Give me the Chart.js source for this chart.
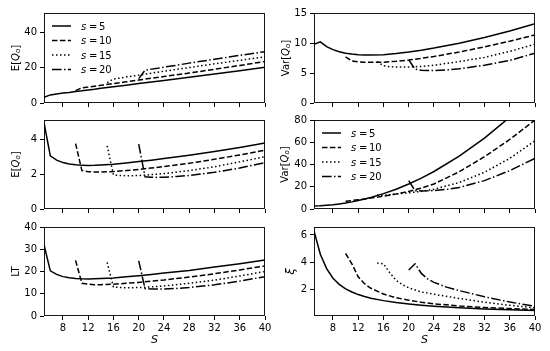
<!DOCTYPE html>
<html>
<head>
<meta charset="utf-8">
<script src="https://cdn.jsdelivr.net/npm/chart.js@4.4.1/dist/chart.umd.min.js"></script>
<style>
  html, body { margin: 0; padding: 0; background: #fff; }
  #wrap { position: relative; width: 550px; height: 351px; }
  #wrap canvas { position: absolute; left: 0; top: 0; }
</style>
</head>
<body>
<div id="wrap">
  <canvas id="c1" width="550" height="351"></canvas>
  <canvas id="c2" width="550" height="351"></canvas>
  <canvas id="c3" width="550" height="351"></canvas>
  <canvas id="c4" width="550" height="351"></canvas>
  <canvas id="c5" width="550" height="351"></canvas>
  <canvas id="c6" width="550" height="351"></canvas>
</div>
<script>
// S values for each s series
const S5 = [5, 6, 7, 8, 9, 10, 11, 12, 13, 14, 16, 18, 20, 22, 24, 28, 32, 36, 40];
const S10 = [10, 11, 12, 13, 14, 16, 18, 20, 22, 24, 28, 32, 36, 40];
const S15 = [15, 16, 17, 18, 19, 20, 22, 24, 28, 32, 36, 40];
const S20 = [20, 21, 22, 23, 24, 26, 28, 32, 36, 40];
const xTicks = [8, 12, 16, 20, 24, 28, 32, 36, 40];
const sLabels = ['5', '10', '15', '20'];

// top left: E[Qo]
const eqTop5 = [3.3, 4.6, 5.1, 5.6, 6.0, 6.5, 6.9, 7.4, 7.8, 8.3, 9.2, 10.1, 11.0, 11.9, 12.8, 14.6, 16.4, 18.3, 20.2];
const eqTop10 = [7.0, 8.6, 9.0, 9.5, 10.0, 11.0, 12.0, 13.0, 14.0, 15.0, 17.0, 19.1, 21.3, 23.5];
const eqTop15 = [11.5, 13.6, 14.1, 14.7, 15.2, 15.8, 16.9, 18.0, 20.1, 22.2, 24.2, 26.2];
const eqTop20 = [13.8, 18.6, 19.2, 19.7, 20.3, 21.4, 22.6, 24.8, 27.0, 29.1];
const eqTopTicks = [0, 20, 40];

// top right: Var[Qo]
const varTop5 = [9.8, 10.2, 9.4, 8.9, 8.55, 8.3, 8.15, 8.05, 8.0, 7.98, 8.05, 8.25, 8.5, 8.8, 9.15, 9.95, 10.9, 12.0, 13.2];
const varTop10 = [7.7, 7.0, 6.85, 6.8, 6.78, 6.8, 6.95, 7.15, 7.45, 7.75, 8.5, 9.35, 10.3, 11.35];
const varTop15 = [6.9, 6.2, 6.05, 6.0, 5.98, 6.0, 6.1, 6.3, 6.9, 7.6, 8.6, 9.8];
const varTop20 = [7.2, 5.65, 5.45, 5.4, 5.4, 5.5, 5.7, 6.3, 7.1, 8.3];
const varTopTicks = [0, 5, 10, 15];

// middle left: E[Qo]
const eqMid5 = [4.95, 3.05, 2.8, 2.66, 2.58, 2.53, 2.5, 2.49, 2.5, 2.52, 2.57, 2.64, 2.72, 2.8, 2.89, 3.08, 3.3, 3.53, 3.78];
const eqMid10 = [3.75, 2.2, 2.14, 2.12, 2.12, 2.15, 2.2, 2.27, 2.35, 2.43, 2.62, 2.85, 3.1, 3.37];
const eqMid15 = [3.62, 1.95, 1.92, 1.91, 1.91, 1.92, 1.97, 2.03, 2.2, 2.42, 2.7, 3.0];
const eqMid20 = [3.72, 1.85, 1.82, 1.81, 1.82, 1.86, 1.92, 2.1, 2.35, 2.66];
const eqMidTicks = [0, 2, 4];

// middle right: Var[Qo]
const varMid5 = [2.8, 3.0, 3.4, 3.9, 4.6, 5.4, 6.4, 7.6, 8.9, 10.4, 13.8, 17.8, 22.5, 27.8, 33.7, 47.5, 63.7, 82.5, 103.8];
const varMid10 = [7.0, 7.6, 8.3, 9.0, 9.8, 11.5, 13.5, 15.8, 18.8, 22.5, 33.5, 47.0, 62.5, 80.0];
const varMid15 = [12.5, 12.3, 12.8, 13.4, 14.0, 14.5, 15.9, 17.8, 23.8, 33.0, 45.5, 61.4];
const varMid20 = [25.5, 16.5, 16.2, 16.3, 16.6, 17.6, 19.4, 25.5, 34.5, 45.5];
const varMidTicks = [0, 20, 40, 60, 80];

// bottom left: LT
const lt5 = [32, 20.3, 18.7, 17.7, 17.2, 16.9, 16.7, 16.6, 16.7, 16.8, 17.1, 17.6, 18.1, 18.7, 19.3, 20.5, 22.0, 23.5, 25.2];
const lt10 = [25, 14.7, 14.3, 14.1, 14.1, 14.3, 14.7, 15.1, 15.7, 16.2, 17.5, 19.0, 20.7, 22.5];
const lt15 = [24.1, 13.0, 12.8, 12.7, 12.7, 12.8, 13.1, 13.5, 14.7, 16.1, 18.0, 20.0];
const lt20 = [24.8, 12.3, 12.1, 12.1, 12.1, 12.4, 12.8, 14.0, 15.7, 17.7];
const ltTicks = [0, 10, 20, 30, 40];

// bottom right: xi
const xi5 = [6.3, 4.6, 3.55, 2.85, 2.4, 2.08, 1.85, 1.66, 1.52, 1.4, 1.22, 1.08, 0.97, 0.88, 0.81, 0.7, 0.61, 0.55, 0.5];
const xi10 = [4.65, 3.9, 2.95, 2.45, 2.12, 1.7, 1.43, 1.25, 1.1, 0.99, 0.83, 0.72, 0.64, 0.57];
const xi15 = [3.95, 3.9, 3.25, 2.7, 2.38, 2.15, 1.85, 1.68, 1.38, 1.1, 0.88, 0.7];
const xi20 = [3.45, 3.9, 3.2, 2.8, 2.55, 2.2, 1.95, 1.5, 1.12, 0.8];
const xiTicks = [2, 4, 6];

const FONT = '"DejaVu Sans"';
const dashes = [[], [5.5, 2.4], [1.5, 2.5], [9.6, 2.4, 1.5, 2.4]];
const xsets = [S5, S10, S15, S20];

// write mixed upright/italic text, optionally rotated
function drawRich(ctx, parts, cx, cy, rotate) {
    ctx.save();
    ctx.translate(cx, cy);
    if (rotate) ctx.rotate(-Math.PI / 2);
    let total = 0;
    parts.forEach(p => {
        ctx.font = p.font;
        p.w = ctx.measureText(p.text).width;
        total += p.w + (p.gap || 0);
    });
    let x = -total / 2;
    ctx.fillStyle = '#000';
    ctx.textBaseline = 'alphabetic';
    ctx.textAlign = 'left';
    parts.forEach(p => {
        ctx.font = p.font;
        ctx.fillText(p.text, x, 3.6 + (p.dy || 0));
        x += p.w + (p.gap || 0);
    });
    ctx.restore();
}

const up = '10px ' + FONT;
const it = 'italic 10px ' + FONT;
const sub = 'italic 7px ' + FONT;
const qLabel = pre => [
    { text: pre + '[', font: up },
    { text: 'Q', font: it },
    { text: 'o', font: sub, dy: 1.8 },
    { text: ']', font: up }
];

const framePlugin = {
    id: 'frame',
    afterDatasetsDraw(chart) {
        const a = chart.chartArea;
        const ctx = chart.ctx;
        ctx.save();
        ctx.strokeStyle = '#000';
        ctx.lineWidth = 0.9;
        ctx.strokeRect(Math.round(a.left) + 0.5, Math.round(a.top) + 0.5,
            Math.round(a.right - a.left) - 1, Math.round(a.bottom - a.top) - 1);
        ctx.restore();
    },
    afterDraw(chart) {
        const o = chart.options.plugins.frame;
        const a = chart.chartArea;
        const ctx = chart.ctx;
        drawRich(ctx, o.ylabel, o.ylabelX, (a.top + a.bottom) / 2, true);
        if (o.xlabel) {
            drawRich(ctx, [{ text: 'S', font: 'italic 11px ' + FONT }], (a.left + a.right) / 2, a.bottom + 23, false);
        }
        if (o.legend) {
            const x0 = a.left + 8;
            const y0 = a.top + 13;
            chart.data.datasets.forEach((ds, i) => {
                const y = y0 + i * 14.5;
                ctx.save();
                ctx.strokeStyle = '#000';
                ctx.lineWidth = 1.5;
                ctx.setLineDash(ds.borderDash);
                ctx.beginPath();
                ctx.moveTo(x0, y);
                ctx.lineTo(x0 + 19, y);
                ctx.stroke();
                ctx.restore();
                ctx.save();
                ctx.fillStyle = '#000';
                ctx.textBaseline = 'alphabetic';
                ctx.font = it;
                ctx.fillText('s', x0 + 29, y + 3.6);
                ctx.font = up;
                ctx.fillText('=', x0 + 37, y + 3.6);
                ctx.fillText(sLabels[i], x0 + 47, y + 3.6);
                ctx.restore();
            });
        }
    }
};

function makeChart(id, box, ymin, ymax, yTicks, series, ylabel, ylabelX, bottomRow, legend) {
    const yW = 40, xH = 30;
    const datasets = series.map((arr, i) => ({
        label: 's=' + sLabels[i],
        data: xsets[i].map((x, j) => ({ x: x, y: arr[j] })),
        borderColor: '#000',
        borderWidth: 1.5,
        borderDash: dashes[i],
        pointRadius: 0,
        tension: 0,
        fill: false
    }));
    return new Chart(document.getElementById(id), {
        type: 'line',
        data: { datasets: datasets },
        options: {
            responsive: false,
            animation: false,
            events: [],
            layout: {
                padding: { left: box[0] - yW, top: box[1], right: 550 - box[2], bottom: 351 - box[3] - xH }
            },
            plugins: {
                legend: { display: false },
                tooltip: { enabled: false },
                frame: { ylabel: ylabel, ylabelX: ylabelX, xlabel: bottomRow, legend: legend }
            },
            scales: {
                x: {
                    type: 'linear',
                    min: 5,
                    max: 40,
                    afterBuildTicks: s => { s.ticks = xTicks.map(v => ({ value: v })); },
                    afterFit: s => { s.height = xH; },
                    grid: { drawOnChartArea: false, drawTicks: true, tickLength: 4, color: '#000', lineWidth: 1 },
                    border: { display: false },
                    ticks: {
                        autoSkip: false,
                        maxRotation: 0,
                        padding: 2,
                        color: '#000',
                        font: { family: 'DejaVu Sans', size: 10 },
                        callback: v => bottomRow ? String(v) : ''
                    }
                },
                y: {
                    min: ymin,
                    max: ymax,
                    afterBuildTicks: s => { s.ticks = yTicks.map(v => ({ value: v })); },
                    afterFit: s => { s.width = yW; },
                    grid: { drawOnChartArea: false, drawTicks: true, tickLength: 4, color: '#000', lineWidth: 1 },
                    border: { display: false },
                    ticks: {
                        autoSkip: false,
                        padding: 3,
                        color: '#000',
                        font: { family: 'DejaVu Sans', size: 10 },
                        callback: v => String(v)
                    }
                }
            }
        },
        plugins: [framePlugin]
    });
}

const L = [44, 265], R = [314, 535];
const rows = [[13, 103], [120, 209], [227, 316]];

makeChart('c1', [L[0], rows[0][0], L[1], rows[0][1]], 0, 51, eqTopTicks,
    [eqTop5, eqTop10, eqTop15, eqTop20], qLabel('E'), 15, false, true);
makeChart('c2', [R[0], rows[0][0], R[1], rows[0][1]], 0, 15, varTopTicks,
    [varTop5, varTop10, varTop15, varTop20], qLabel('Var'), 285, false, false);
makeChart('c3', [L[0], rows[1][0], L[1], rows[1][1]], 0, 5.1, eqMidTicks,
    [eqMid5, eqMid10, eqMid15, eqMid20], qLabel('E'), 15, false, false);
makeChart('c4', [R[0], rows[1][0], R[1], rows[1][1]], 0, 80, varMidTicks,
    [varMid5, varMid10, varMid15, varMid20], qLabel('Var'), 284, false, true);
makeChart('c5', [L[0], rows[2][0], L[1], rows[2][1]], 0, 40, ltTicks,
    [lt5, lt10, lt15, lt20], [{ text: 'LT', font: up }], 15, true, false);
makeChart('c6', [R[0], rows[2][0], R[1], rows[2][1]], 0.1, 6.58, xiTicks,
    [xi5, xi10, xi15, xi20], [{ text: 'ξ', font: 'italic 12px ' + FONT }], 290, true, false);
</script>
</body>
</html>
